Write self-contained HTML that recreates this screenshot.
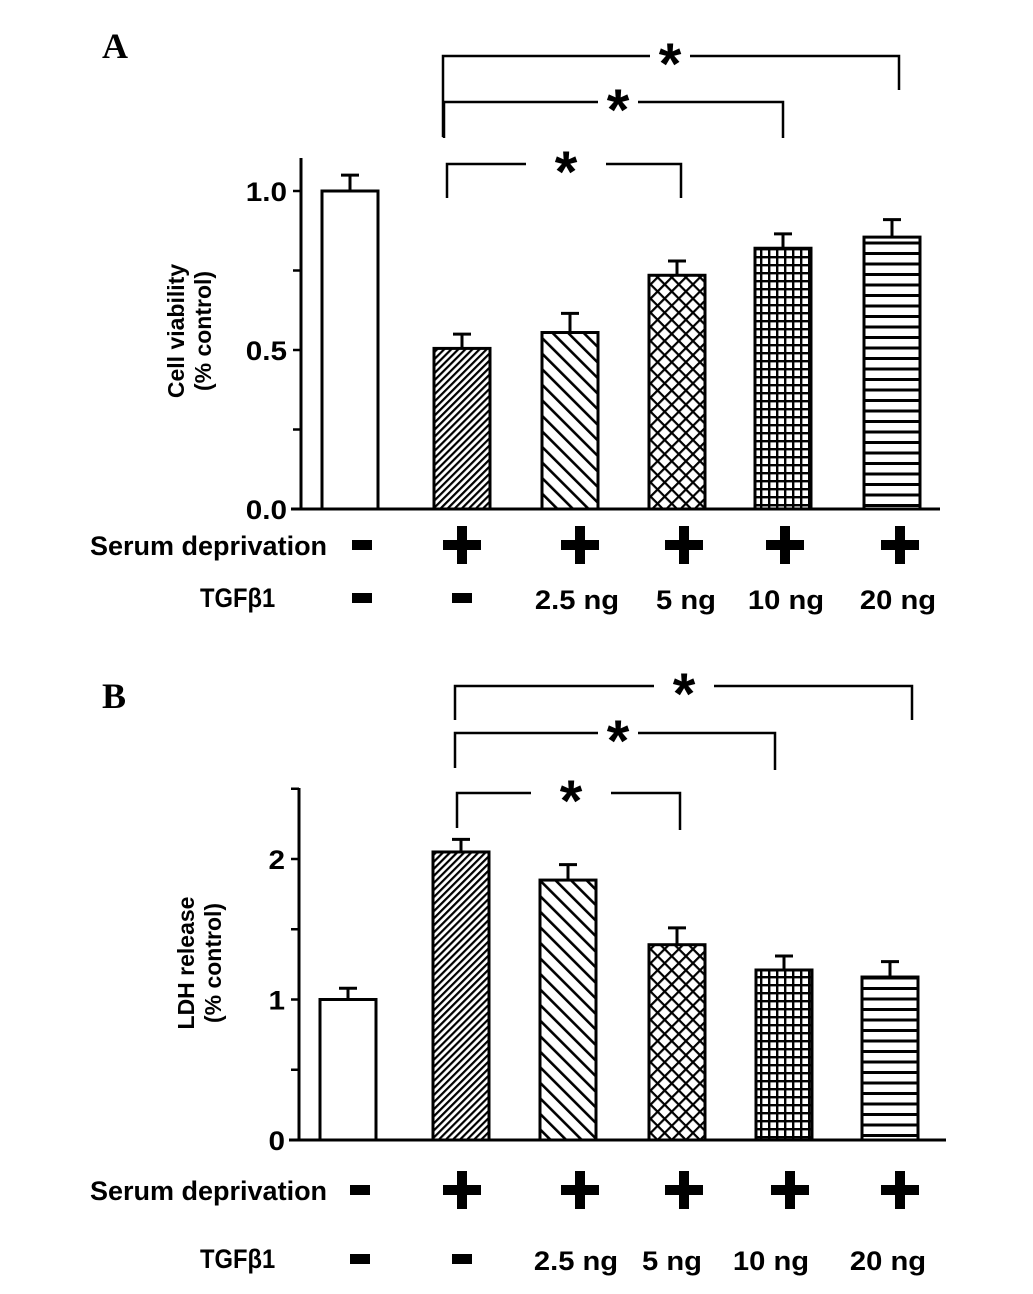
<!DOCTYPE html>
<html><head><meta charset="utf-8"><style>
body{margin:0;background:#fff}
svg text{font-family:"Liberation Sans",Arial,sans-serif;font-weight:bold;fill:#000}
svg text.serif{font-family:"Liberation Serif","Times New Roman",serif}
</style></head><body>
<svg id="fig" width="1033" height="1289" viewBox="0 0 1033 1289" xmlns="http://www.w3.org/2000/svg">
<defs>
<pattern id="pDense" width="5" height="5" patternUnits="userSpaceOnUse" patternTransform="rotate(45)"><rect width="5" height="5" fill="#fff"/><rect width="2.2" height="5" fill="#000"/></pattern>
<pattern id="pDiag" width="11" height="11" patternUnits="userSpaceOnUse" patternTransform="rotate(-45)"><rect width="11" height="11" fill="#fff"/><rect width="2.6" height="11" fill="#000"/></pattern>
<pattern id="pCross" width="10" height="10" patternUnits="userSpaceOnUse" patternTransform="rotate(45)"><rect width="10" height="10" fill="#fff"/><rect width="2.2" height="10" fill="#000"/><rect width="10" height="2.2" fill="#000"/></pattern>
<pattern id="pGrid" width="8" height="8" patternUnits="userSpaceOnUse"><rect width="8" height="8" fill="#fff"/><rect width="2.4" height="8" fill="#000"/><rect width="8" height="2.4" fill="#000"/></pattern>
<pattern id="pHoriz" width="10" height="10.5" patternUnits="userSpaceOnUse"><rect width="10" height="10.5" fill="#fff"/><rect width="10" height="3" fill="#000"/></pattern>
</defs>
<g id="root"></g>
</svg>
<script>
const fillsA = ['#fff','url(#pDense)','url(#pDiag)','url(#pCross)','url(#pGrid)','url(#pHoriz)'];
const viabilityValues = [1.0, 0.505, 0.555, 0.735, 0.82, 0.855];
const viabilityErrors = [0.05, 0.045, 0.06, 0.045, 0.045, 0.055];
const ldhValues = [1.0, 2.05, 1.85, 1.39, 1.21, 1.16];
const ldhErrors = [0.08, 0.09, 0.11, 0.12, 0.10, 0.11];
const viabilityTicks = ['0.0','0.5','1.0'];
const viabilityTickVals = [0, 0.5, 1.0];
const ldhTicks = ['0','1','2'];
const ldhTickVals = [0, 1, 2];
const serumLabels = ['-','+','+','+','+','+'];
const tgfLabels = ['-','-','2.5 ng','5 ng','10 ng','20 ng'];

const NS='http://www.w3.org/2000/svg';
const root=document.getElementById('root');
function mk(tag,attrs,parent,txt){const e=document.createElementNS(NS,tag);for(const k in attrs)e.setAttribute(k,attrs[k]);if(txt!==undefined)e.textContent=txt;(parent||root).appendChild(e);return e;}
function ctext(g,x,y,size,anchor,txt,sx){
  return mk('text',{x:0,y:0,'font-size':size,'text-anchor':anchor,transform:`translate(${x},${y}) scale(${sx||0.88},1)`},g,txt);
}

function panel(cfg){
  const g=mk('g',{});
  
  
  const y=v=>cfg.y0-(v/cfg.unit)*cfg.unitPx;
  const lt=mk('text',{x:cfg.letterX,y:cfg.letterY,'font-size':36,'class':'serif'},g,cfg.letter);
  
  
  const ya=mk('line',{x1:cfg.ax,y1:cfg.y0,x2:cfg.ax,y2:cfg.axTop,stroke:'#000','stroke-width':3},g);
  
  
  const xa=mk('line',{x1:cfg.ax-10,y1:cfg.y0,x2:cfg.axRight,y2:cfg.y0,stroke:'#000','stroke-width':3},g);
  
  
  for(let v=0; v<=cfg.tickMax+1e-9; v+=cfg.minor){
    const t=mk('line',{x1:cfg.ax-8,y1:y(v),x2:cfg.ax,y2:y(v),stroke:'#000','stroke-width':2.5},g);
    
    
  }
  cfg.tickVals.forEach((v,i)=>{
    const t=ctext(g,cfg.ax-14,y(v)+10,27,'end',cfg.ticks[i],1.1);
    
    
  });
  const tt=mk('text',{transform:`translate(${cfg.titleX},${cfg.titleY}) rotate(-90)`,'font-size':23,'text-anchor':'middle'},g);
  
  
  mk('tspan',{x:0,dy:0},tt,cfg.title1);
  mk('tspan',{x:0,dy:27},tt,'(% control)');
  cfg.vals.forEach((v,i)=>{
    const cx=cfg.cx[i], w=56;
    const e=mk('line',{x1:cx,y1:y(v),x2:cx,y2:y(v+cfg.errs[i]),stroke:'#000','stroke-width':3},g);
    
    
    const c=mk('line',{x1:cx-9,y1:y(v+cfg.errs[i]),x2:cx+9,y2:y(v+cfg.errs[i]),stroke:'#000','stroke-width':3},g);
    
    
    const b=mk('rect',{x:cx-w/2,y:y(v),width:w,height:cfg.y0-y(v),fill:fillsA[i],stroke:'#000','stroke-width':3},g);
    
    
  });
  cfg.brackets.forEach(br=>{
    const [x1,x2,by,l1,l2,sx,gap]=br;
    const p=mk('path',{d:`M${x1},${l1} V${by} H${sx-gap} M${sx+gap},${by} H${x2} V${l2}`,fill:'none',stroke:'#000','stroke-width':2.5},g);
    
    
    const s=mk('text',{x:sx,y:by+28,'font-size':58,'text-anchor':'middle'},g,'*');
    
    
  });
  const sl=ctext(g,90,cfg.serumY+10,27,'start','Serum deprivation',1.0);
  
  
  const tl=ctext(g,200,cfg.tgfY+10,27,'start','TGFβ1',0.88);
  
  
  serumLabels.forEach((s,i)=>{
    const cx=cfg.lx[i];
    if(s==='+'){
      const r1=mk('rect',{x:cx-19,y:cfg.serumY-5,width:38,height:10,fill:'#000'},g);
      
      
      mk('rect',{x:cx-5,y:cfg.serumY-19,width:10,height:38,fill:'#000'},g);
    }else{
      const r=mk('rect',{x:cx-10,y:cfg.serumY-5,width:20,height:10,fill:'#000'},g);
      
      
    }
  });
  tgfLabels.forEach((s,i)=>{
    const cx=cfg.lx[i];
    if(s==='-'){
      const r=mk('rect',{x:cx-10,y:cfg.tgfY-4,width:20,height:10,fill:'#000'},g);
      
      
    }else{
      const t=ctext(g,cfg.tx[i],cfg.tgfY+12,27,'middle',s,1.08);
      
      
    }
  });
}
panel({name:'panel-a-cell-viability',letter:'A',letterX:102,letterY:58,ax:301,axTop:158,axRight:940,y0:509,unit:1,unitPx:318,tickMax:1.15,minor:0.25,
  ticks:viabilityTicks,tickVals:viabilityTickVals,title1:'Cell viability',titleX:184,titleY:331,
  vals:viabilityValues,errs:viabilityErrors,cx:[350,462,570,677,783,892],
  brackets:[[443,899,56,137,90,670,20],[444,783,102,138,138,618,20],[447,681,164,198,198,566,40]],
  serumY:545,tgfY:597,lx:[362,462,580,684,785,900],tx:[0,0,577,686,786,898]});
panel({name:'panel-b-ldh-release',letter:'B',letterX:102,letterY:708,ax:299,axTop:788,axRight:946,y0:1140,unit:1,unitPx:140.5,tickMax:2.5,minor:0.5,
  ticks:ldhTicks,tickVals:ldhTickVals,title1:'LDH release',titleX:194,titleY:963,
  vals:ldhValues,errs:ldhErrors,cx:[348,461,568,677,784,890],
  brackets:[[455,912,686,720,720,684,30],[455,775,733,768,770,618,20],[457,680,793,828,830,571,40]],
  serumY:1190,tgfY:1258,lx:[360,462,580,684,790,900],tx:[0,0,576,672,771,888]});
</script>
</body></html>
